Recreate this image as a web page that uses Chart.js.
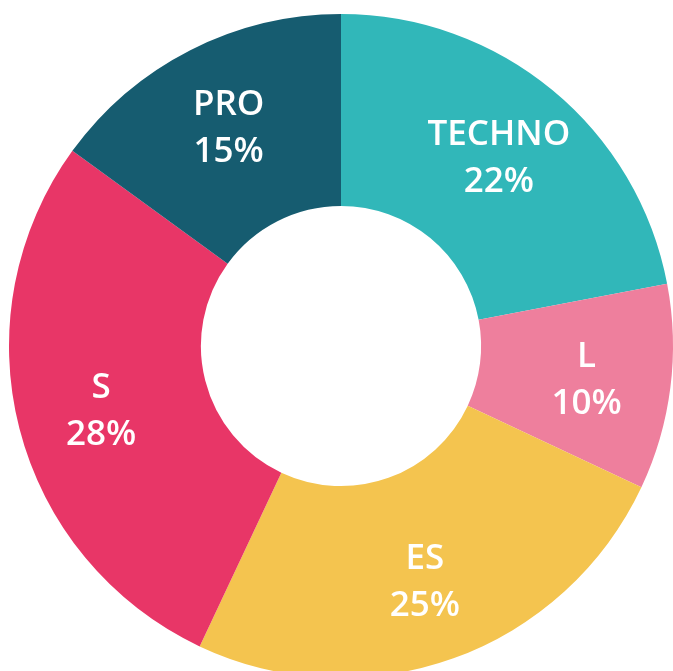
<!DOCTYPE html>
<html>
<head>
<meta charset="utf-8">
<script src="https://cdn.jsdelivr.net/npm/chart.js@4"></script>
<style>
  html, body { margin: 0; padding: 0; background: #fff; overflow: hidden; width: 673px; height: 671px; }
  #wrap { position: absolute; left: -9px; top: -4px; width: 700px; height: 700px; }
</style>
</head>
<body>
<div id="wrap"><canvas id="donut" width="700" height="700"></canvas></div>
<script>
/* ── Data ── */
const labels = ['TECHNO', 'L', 'ES', 'S', 'PRO'];
const values = [22, 10, 25, 28, 15];
const colors = ['#31b7b9', '#ee7f9d', '#f4c44f', '#e83667', '#165c70'];

/* ── Segment labels drawn in the ring ── */
const ringLabels = {
  id: 'ringLabels',
  afterDatasetsDraw(chart) {
    const ctx = chart.ctx;
    const meta = chart.getDatasetMeta(0);
    ctx.save();
    ctx.fillStyle = '#fff';
    ctx.textAlign = 'center';
    ctx.textBaseline = 'middle';
    ctx.font = '600 35px "Open Sans"';
    meta.data.forEach((arc, i) => {
      const mid = (arc.startAngle + arc.endAngle) / 2;
      const r = arc.innerRadius + (arc.outerRadius - arc.innerRadius) * 0.56;
      const x = arc.x + Math.cos(mid) * r;
      const y = arc.y + Math.sin(mid) * r + 3;
      ctx.fillText(labels[i], x, y - 23);
      ctx.fillText(values[i] + '%', x, y + 24);
    });
    ctx.restore();
  }
};

new Chart(document.getElementById('donut'), {
  type: 'doughnut',
  data: {
    labels,
    datasets: [{ data: values, backgroundColor: colors, borderWidth: 0, hoverOffset: 0 }]
  },
  options: {
    responsive: false, animation: false, cutout: '42.2%',
    layout: { padding: 18 },
    plugins: { legend: { display: false }, tooltip: { enabled: false } }
  },
  plugins: [ringLabels]
});
</script>
</body>
</html>
